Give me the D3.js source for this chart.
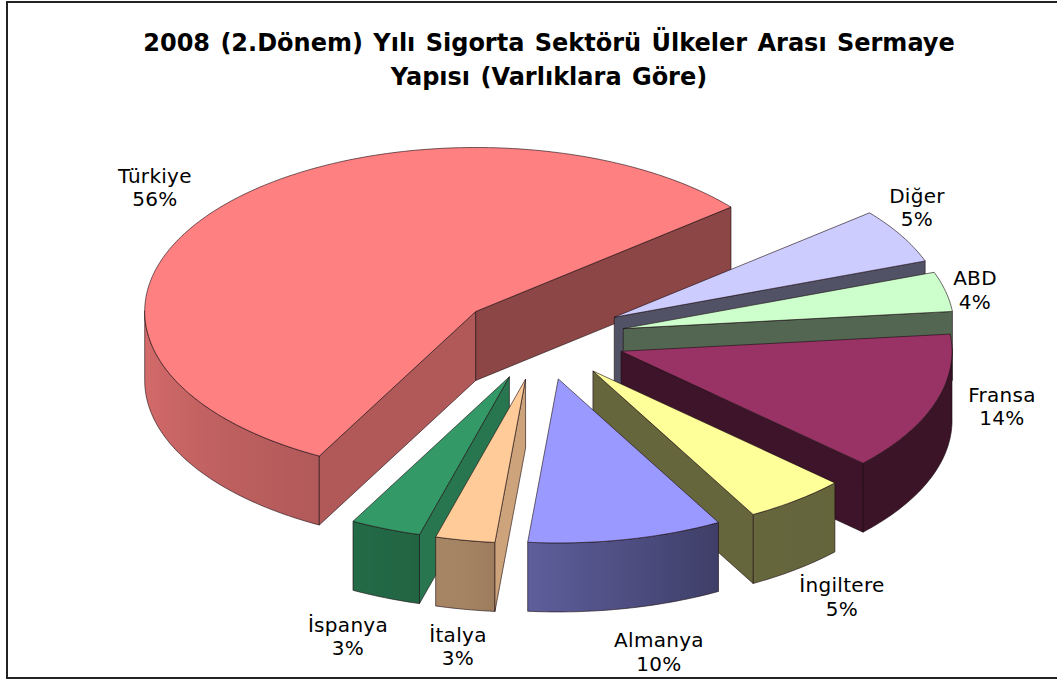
<!DOCTYPE html>
<html><head><meta charset="utf-8">
<script src="https://cdn.jsdelivr.net/npm/d3@7"></script>
<style>html,body{margin:0;padding:0;background:#fff}svg{display:block}text{fill:#000;font-family:"DejaVu Sans",Verdana,sans-serif}</style>
</head><body><svg id="c" width="1057" height="679"></svg>
<script>
const categories=["Türkiye","Diğer","ABD","Fransa","İngiltere","Almanya","İtalya","İspanya"];
const values=[56.1,5.4,3.9,13.6,5,9.5,2.9,3.45];
const colors=["#FF8080","#CCCCFF","#CCFFCC","#993366","#FFFF99","#9999FF","#FFCC99","#339966"];
const paintOrder=["Türkiye","Diğer","ABD","Fransa","İngiltere","İspanya","İtalya","Almanya"];
const titleLines=["2008 (2.Dönem) Yılı Sigorta Sektörü Ülkeler Arası Sermaye","Yapısı (Varlıklara Göre)"];
const labelAnchors={"Türkiye":[155,182.5],"Diğer":[917,202.5],"ABD":[975,285],"Fransa":[1002,401.5],"İngiltere":[842,592],"Almanya":[659,647],"İtalya":[458,641.5],"İspanya":[348,631.5]};

const W=1057,H=679,cx=541,cy=338,rx=331,ry=164,depth=69,explode=0.255,startDeg=-151.8;
const svg=d3.select("#c");
const defs=svg.append("defs");
svg.append("rect").attr("x",7).attr("y",2).attr("width",W-7+5).attr("height",676)
  .attr("fill","#fff").attr("stroke","#222").attr("stroke-width",2);

const pie=d3.pie().sort(null).value(d=>d).startAngle(startDeg*Math.PI/180).endAngle((startDeg+360)*Math.PI/180);
const arcs=pie(values);
const px=d3.scaleLinear().domain([-1,1]).range([-rx,rx]);
const py=d3.scaleLinear().domain([-1,1]).range([-ry,ry]);
const pt=(a,e,dz=0)=>[cx+px(e*Math.sin(a)),cy-py(e*Math.cos(a))+dz];
const rimShade=d3.scaleLinear().domain([90,150,190,210,270,300]).range([.38,.40,.64,.70,.85,.85]);
const startShade=d3.scaleLinear().domain([185,196,209]).range([.8,.77,.69]).clamp(true);
const endShade=d3.scaleLinear().domain([51,69,152]).range([.55,.4,.4]).clamp(true);
const norm=a=>{let d=a*180/Math.PI;return ((d%360)+360)%360};
const shade=(c,k)=>{const r=d3.rgb(c);return d3.rgb(r.r*k,r.g*k,r.b*k).formatHex()};
const line=d3.line();
const edge="rgba(30,15,20,.62)";

paintOrder.forEach(name=>{
  const i=categories.indexOf(name),d=arcs[i],col=colors[i];
  const mid=(d.startAngle+d.endAngle)/2;
  const apex=[cx+px(explode*Math.sin(mid)),cy-py(explode*Math.cos(mid))];
  const off=(a,dz=0)=>{const p=pt(a,1,dz);return [p[0]+apex[0]-cx,p[1]+apex[1]-cy]};
  const n=Math.max(8,Math.round((d.endAngle-d.startAngle)*180/Math.PI));
  const angles=d3.range(n+1).map(k=>d.startAngle+(d.endAngle-d.startAngle)*k/n);
  const top=angles.map(a=>off(a));
  const g=svg.append("g").attr("data-name",name);

  const front=angles.filter(a=>Math.cos(a)<0.02);
  if(front.length>1){
    const xs=front.map(a=>off(a)[0]),x0=d3.min(xs),x1=d3.max(xs),id="rim"+i;
    const grad=defs.append("linearGradient").attr("id",id).attr("gradientUnits","userSpaceOnUse")
      .attr("x1",x0).attr("x2",x1).attr("y1",0).attr("y2",0);
    front.slice().sort((a,b)=>off(a)[0]-off(b)[0]).forEach(a=>{
      grad.append("stop").attr("offset",(off(a)[0]-x0)/(x1-x0||1)).attr("stop-color",shade(col,rimShade(norm(a))));
    });
    const band=front.map(a=>off(a)).concat(front.slice().reverse().map(a=>off(a,depth)));
    g.append("path").attr("d",line(band)+"Z").attr("fill",`url(#${id})`).attr("stroke",edge).attr("stroke-width",1);
  }
  [[d.startAngle,+1],[d.endAngle,-1]].forEach(([a,sgn])=>{
    const r=off(a),v=[r[0]-apex[0],r[1]-apex[1]];
    const m=off(mid),w=[m[0]-apex[0],m[1]-apex[1]];
    const cross=(p,q)=>p[0]*q[1]-p[1]*q[0];
    const visible=cross(v,[0,1])*cross(v,w)<0;
    if(!visible)return;
    const k=sgn>0?startShade(norm(a)):endShade(norm(a));
    const quad=[apex,r,[r[0],r[1]+depth],[apex[0],apex[1]+depth]];
    g.append("path").attr("d",line(quad)+"Z").attr("fill",shade(col,k)).attr("stroke",edge).attr("stroke-width",1);
  });
  g.append("path").attr("d",line([apex,...top])+"Z").attr("fill",col).attr("stroke",edge).attr("stroke-width",1);
});

svg.selectAll("text.t").data(titleLines).join("text").attr("class","t")
  .attr("x",549).attr("y",(d,i)=>51+i*34).attr("text-anchor","middle")
  .attr("font-size",24).attr("font-weight","bold").attr("word-spacing",2).text(d=>d);

categories.forEach((c,i)=>{
  const [x,y]=labelAnchors[c];
  const t=svg.append("text").attr("text-anchor","middle").attr("font-size",20).attr("letter-spacing",.3);
  t.append("tspan").attr("x",x).attr("y",y).text(c);
  t.append("tspan").attr("x",x).attr("y",y+23.7).text(Math.round(values[i])+"%");
});
</script></body></html>
